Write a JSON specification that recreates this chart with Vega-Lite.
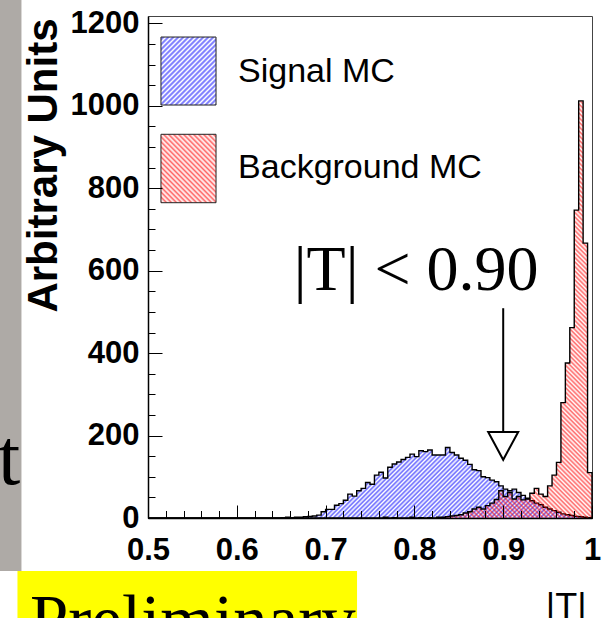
{
"$schema":"https://vega.github.io/schema/vega-lite/v6.json",
"width":444,"height":502,
"autosize":{"type":"none"},
"padding":{"left":148,"top":16,"right":20,"bottom":100},
"background":"white",
"config":{"view":{"stroke":"#444","strokeWidth":1},"font":"Liberation Sans"},
"data":{"values":[
{"T":0.5,"signal":0,"background":0},{"T":0.505,"signal":0,"background":0},{"T":0.51,"signal":0,"background":0},{"T":0.515,"signal":0,"background":0},{"T":0.52,"signal":0,"background":0},
{"T":0.525,"signal":0,"background":0},{"T":0.53,"signal":0,"background":0},{"T":0.535,"signal":0,"background":0},{"T":0.54,"signal":0,"background":0},{"T":0.545,"signal":0,"background":0},
{"T":0.55,"signal":0,"background":0},{"T":0.555,"signal":0,"background":0},{"T":0.56,"signal":0,"background":0},{"T":0.565,"signal":0,"background":0},{"T":0.57,"signal":0,"background":0},
{"T":0.575,"signal":0,"background":0},{"T":0.58,"signal":0,"background":0},{"T":0.585,"signal":0,"background":0},{"T":0.59,"signal":0,"background":0},{"T":0.595,"signal":0,"background":0},
{"T":0.6,"signal":0,"background":0},{"T":0.605,"signal":0,"background":0},{"T":0.61,"signal":0,"background":0},{"T":0.615,"signal":0,"background":0},{"T":0.62,"signal":0,"background":0},
{"T":0.625,"signal":0,"background":0},{"T":0.63,"signal":0,"background":0},{"T":0.635,"signal":0,"background":0},{"T":0.64,"signal":0,"background":0},{"T":0.645,"signal":0,"background":0},
{"T":0.65,"signal":1,"background":0},{"T":0.655,"signal":2,"background":0},{"T":0.66,"signal":1,"background":0},{"T":0.665,"signal":2,"background":0},{"T":0.67,"signal":2,"background":0},
{"T":0.675,"signal":3,"background":0},{"T":0.68,"signal":4,"background":0},{"T":0.685,"signal":5,"background":0},{"T":0.69,"signal":7,"background":0},{"T":0.695,"signal":15,"background":0},
{"T":0.7,"signal":21,"background":0},{"T":0.705,"signal":21,"background":0},{"T":0.71,"signal":31,"background":0},{"T":0.715,"signal":35,"background":0},{"T":0.72,"signal":43,"background":0},
{"T":0.725,"signal":58,"background":0},{"T":0.73,"signal":53,"background":0},{"T":0.735,"signal":66,"background":0},{"T":0.74,"signal":72,"background":0},{"T":0.745,"signal":86,"background":0},
{"T":0.75,"signal":82,"background":0},{"T":0.755,"signal":104,"background":0},{"T":0.76,"signal":111,"background":0},{"T":0.765,"signal":97,"background":2},{"T":0.77,"signal":123,"background":0},
{"T":0.775,"signal":131,"background":1},{"T":0.78,"signal":136,"background":0},{"T":0.785,"signal":142,"background":0},{"T":0.79,"signal":147,"background":0},{"T":0.795,"signal":155,"background":2},
{"T":0.8,"signal":149,"background":0},{"T":0.805,"signal":163,"background":1},{"T":0.81,"signal":161,"background":0},{"T":0.815,"signal":165,"background":1},{"T":0.82,"signal":153,"background":0},
{"T":0.825,"signal":153,"background":2},{"T":0.83,"signal":153,"background":2},{"T":0.835,"signal":171,"background":3},{"T":0.84,"signal":159,"background":5},{"T":0.845,"signal":153,"background":6},
{"T":0.85,"signal":145,"background":8},{"T":0.855,"signal":140,"background":12},{"T":0.86,"signal":130,"background":15},{"T":0.865,"signal":117,"background":22},{"T":0.87,"signal":115,"background":26},
{"T":0.875,"signal":100,"background":22},{"T":0.88,"signal":98,"background":30},{"T":0.885,"signal":92,"background":36},{"T":0.89,"signal":88,"background":45},{"T":0.895,"signal":78,"background":66},
{"T":0.9,"signal":70,"background":52},{"T":0.905,"signal":66,"background":62},{"T":0.91,"signal":70,"background":46},{"T":0.915,"signal":62,"background":52},{"T":0.92,"signal":55,"background":44},
{"T":0.925,"signal":48,"background":46},{"T":0.93,"signal":42,"background":60},{"T":0.935,"signal":36,"background":72},{"T":0.94,"signal":32,"background":58},{"T":0.945,"signal":26,"background":52},
{"T":0.95,"signal":22,"background":78},{"T":0.955,"signal":18,"background":104},{"T":0.96,"signal":14,"background":135},{"T":0.965,"signal":10,"background":280},{"T":0.97,"signal":8,"background":376},
{"T":0.975,"signal":6,"background":462},{"T":0.98,"signal":4,"background":747},{"T":0.985,"signal":3,"background":1012},{"T":0.99,"signal":2,"background":667},{"T":0.995,"signal":1,"background":110},
{"T":1.0,"signal":0,"background":0}
]},
"resolve":{"axis":{"x":"independent","y":"independent"}},
"layer":[
{"data":{"values":[{}]},"mark":{"type":"rect","fill":"#aeaaa6"},
 "encoding":{"x":{"datum":0.3333,"scale":{"domain":[0.5,1],"nice":false,"zero":false},"axis":null},"x2":{"datum":0.3575},
 "y":{"datum":1260,"scale":{"domain":[0,1218],"nice":false,"zero":false},"axis":null},"y2":{"datum":-128.6}}},
{"data":{"values":[{}]},"mark":{"type":"rect","fill":"#ffff00"},
 "encoding":{"x":{"datum":0.353,"scale":{"domain":[0.5,1],"nice":false,"zero":false},"axis":null},"x2":{"datum":0.7354},
 "y":{"datum":-128.6,"scale":{"domain":[0,1218],"nice":false,"zero":false},"axis":null},"y2":{"datum":-260}}},
{"data":{"values":[{}]},"mark":{"type":"text","text":"t","font":"Liberation Serif","fontSize":80,"align":"left","baseline":"alphabetic","color":"black"},
 "encoding":{"x":{"datum":0.3311,"scale":{"domain":[0.5,1],"nice":false,"zero":false},"axis":null},
 "y":{"datum":82,"scale":{"domain":[0,1218],"nice":false,"zero":false},"axis":null}}},
{"data":{"values":[{}]},"mark":{"type":"text","text":"Preliminary","font":"Liberation Serif","fontSize":69,"align":"left","baseline":"alphabetic","color":"black"},
 "encoding":{"x":{"datum":0.3671,"scale":{"domain":[0.5,1],"nice":false,"zero":false},"axis":null},
 "y":{"datum":-303,"scale":{"domain":[0,1218],"nice":false,"zero":false},"axis":null}}},
{"mark":{"type":"area","interpolate":"step-after","fillOpacity":1,"fill":{"gradient":"linear","x1":0.1417,"y1":0.0225,"x2":1.1303,"y2":0.1794,"stops":[
{"offset":0.3,"color":"#00f0"},{"offset":0.305,"color":"#00f9"},{"offset":0.31,"color":"#00f0"},{"offset":0.315,"color":"#00f9"},{"offset":0.32,"color":"#00f0"},{"offset":0.325,"color":"#00f9"},{"offset":0.33,"color":"#00f0"},{"offset":0.335,"color":"#00f9"},{"offset":0.34,"color":"#00f0"},{"offset":0.345,"color":"#00f9"},
{"offset":0.35,"color":"#00f0"},{"offset":0.355,"color":"#00f9"},{"offset":0.36,"color":"#00f0"},{"offset":0.365,"color":"#00f9"},{"offset":0.37,"color":"#00f0"},{"offset":0.375,"color":"#00f9"},{"offset":0.38,"color":"#00f0"},{"offset":0.385,"color":"#00f9"},{"offset":0.39,"color":"#00f0"},{"offset":0.395,"color":"#00f9"},
{"offset":0.4,"color":"#00f0"},{"offset":0.405,"color":"#00f9"},{"offset":0.41,"color":"#00f0"},{"offset":0.415,"color":"#00f9"},{"offset":0.42,"color":"#00f0"},{"offset":0.425,"color":"#00f9"},{"offset":0.43,"color":"#00f0"},{"offset":0.435,"color":"#00f9"},{"offset":0.44,"color":"#00f0"},{"offset":0.445,"color":"#00f9"},
{"offset":0.45,"color":"#00f0"},{"offset":0.455,"color":"#00f9"},{"offset":0.46,"color":"#00f0"},{"offset":0.465,"color":"#00f9"},{"offset":0.47,"color":"#00f0"},{"offset":0.475,"color":"#00f9"},{"offset":0.48,"color":"#00f0"},{"offset":0.485,"color":"#00f9"},{"offset":0.49,"color":"#00f0"},{"offset":0.495,"color":"#00f9"},
{"offset":0.5,"color":"#00f0"},{"offset":0.505,"color":"#00f9"},{"offset":0.51,"color":"#00f0"},{"offset":0.515,"color":"#00f9"},{"offset":0.52,"color":"#00f0"},{"offset":0.525,"color":"#00f9"},{"offset":0.53,"color":"#00f0"},{"offset":0.535,"color":"#00f9"},{"offset":0.54,"color":"#00f0"},{"offset":0.545,"color":"#00f9"},
{"offset":0.55,"color":"#00f0"},{"offset":0.555,"color":"#00f9"},{"offset":0.56,"color":"#00f0"},{"offset":0.565,"color":"#00f9"},{"offset":0.57,"color":"#00f0"},{"offset":0.575,"color":"#00f9"},{"offset":0.58,"color":"#00f0"},{"offset":0.585,"color":"#00f9"},{"offset":0.59,"color":"#00f0"},{"offset":0.595,"color":"#00f9"},
{"offset":0.6,"color":"#00f0"},{"offset":0.605,"color":"#00f9"},{"offset":0.61,"color":"#00f0"},{"offset":0.615,"color":"#00f9"},{"offset":0.62,"color":"#00f0"},{"offset":0.625,"color":"#00f9"},{"offset":0.63,"color":"#00f0"},{"offset":0.635,"color":"#00f9"},{"offset":0.64,"color":"#00f0"},{"offset":0.645,"color":"#00f9"},
{"offset":0.65,"color":"#00f0"},{"offset":0.655,"color":"#00f9"},{"offset":0.66,"color":"#00f0"},{"offset":0.665,"color":"#00f9"},{"offset":0.67,"color":"#00f0"},{"offset":0.675,"color":"#00f9"},{"offset":0.68,"color":"#00f0"},{"offset":0.685,"color":"#00f9"},{"offset":0.69,"color":"#00f0"},{"offset":0.695,"color":"#00f9"},
{"offset":0.7,"color":"#00f0"},{"offset":0.705,"color":"#00f9"},{"offset":0.71,"color":"#00f0"},{"offset":0.715,"color":"#00f9"},{"offset":0.72,"color":"#00f0"},{"offset":0.725,"color":"#00f9"},{"offset":0.73,"color":"#00f0"},{"offset":0.735,"color":"#00f9"},{"offset":0.74,"color":"#00f0"},{"offset":0.745,"color":"#00f9"},
{"offset":0.75,"color":"#00f0"},{"offset":0.755,"color":"#00f9"},{"offset":0.76,"color":"#00f0"},{"offset":0.765,"color":"#00f9"},{"offset":0.77,"color":"#00f0"},{"offset":0.775,"color":"#00f9"},{"offset":0.78,"color":"#00f0"},{"offset":0.785,"color":"#00f9"},{"offset":0.79,"color":"#00f0"},{"offset":0.795,"color":"#00f9"},
{"offset":0.8,"color":"#00f0"},{"offset":0.805,"color":"#00f9"},{"offset":0.81,"color":"#00f0"},{"offset":0.815,"color":"#00f9"},{"offset":0.82,"color":"#00f0"},{"offset":0.825,"color":"#00f9"},{"offset":0.83,"color":"#00f0"},{"offset":0.835,"color":"#00f9"},{"offset":0.84,"color":"#00f0"},{"offset":0.845,"color":"#00f9"},
{"offset":0.85,"color":"#00f0"},{"offset":0.855,"color":"#00f9"},{"offset":0.86,"color":"#00f0"},{"offset":0.865,"color":"#00f9"},{"offset":0.87,"color":"#00f0"},{"offset":0.875,"color":"#00f9"},{"offset":0.88,"color":"#00f0"},{"offset":0.885,"color":"#00f9"},{"offset":0.89,"color":"#00f0"},{"offset":0.895,"color":"#00f9"},
{"offset":0.9,"color":"#00f0"},{"offset":0.905,"color":"#00f9"},{"offset":0.91,"color":"#00f0"},{"offset":0.915,"color":"#00f9"},{"offset":0.92,"color":"#00f0"},{"offset":0.925,"color":"#00f9"},{"offset":0.93,"color":"#00f0"},{"offset":0.935,"color":"#00f9"},{"offset":0.94,"color":"#00f0"},{"offset":0.945,"color":"#00f9"},
{"offset":0.95,"color":"#00f0"},{"offset":0.955,"color":"#00f9"},{"offset":0.96,"color":"#00f0"},{"offset":0.965,"color":"#00f9"},{"offset":0.97,"color":"#00f0"},{"offset":0.975,"color":"#00f9"},{"offset":0.98,"color":"#00f0"},{"offset":0.985,"color":"#00f9"},{"offset":0.99,"color":"#00f0"},{"offset":0.995,"color":"#00f9"},
{"offset":1,"color":"#00f0"}]}},
 "encoding":{
 "x":{"field":"T","type":"quantitative","scale":{"domain":[0.5,1],"nice":false,"zero":false},
  "axis":{"orient":"bottom","values":[0.5,0.6,0.7,0.8,0.9,1],"format":"~g","ticks":false,"grid":false,"domain":true,"domainColor":"black","domainWidth":1.5,"labelFont":"Liberation Sans","labelFontWeight":"bold","labelFontSize":31,"labelColor":"black","labelPadding":17,"labelFlush":false,"labelOverlap":false,"labelBound":false,"title":"|T|","titleFont":"Liberation Sans","titleFontWeight":"normal","titleFontSize":36,"titleColor":"black","titleX":438,"titleY":100,"titleAlign":"right","titleBaseline":"alphabetic","zindex":1}},
 "y":{"field":"signal","type":"quantitative","stack":null,"scale":{"domain":[0,1218],"nice":false,"zero":false},
  "axis":{"orient":"left","values":[0,200,400,600,800,1000,1200],"format":"d","ticks":false,"grid":false,"domain":true,"domainColor":"black","domainWidth":1.5,"labelFont":"Liberation Sans","labelFontWeight":"bold","labelFontSize":31,"labelColor":"black","labelPadding":9,"labelOverlap":false,"labelFlush":false,"title":"Arbitrary Units","titleFont":"Liberation Sans","titleFontWeight":"bold","titleFontSize":42,"titleColor":"black","titleX":-92,"titleY":2,"titleAngle":270,"titleAlign":"right","titleBaseline":"alphabetic","zindex":1}}}},
{"mark":{"type":"line","interpolate":"step-after","color":"black","strokeWidth":1.4},
 "encoding":{
 "x":{"field":"T","type":"quantitative","scale":{"domain":[0.5,1],"nice":false,"zero":false},
  "axis":{"orient":"bottom","values":[0.5,0.6,0.7,0.8,0.9,1],"labels":false,"domain":false,"grid":false,"ticks":true,"tickSize":-13,"tickColor":"black","tickWidth":1,"title":null,"zindex":1}},
 "y":{"field":"signal","type":"quantitative","scale":{"domain":[0,1218],"nice":false,"zero":false},
  "axis":{"orient":"left","values":[0,200,400,600,800,1000,1200],"labels":false,"domain":false,"grid":false,"ticks":true,"tickSize":-14,"tickColor":"black","tickWidth":1,"title":null,"zindex":1}}}},
{"mark":{"type":"area","interpolate":"step-after","fillOpacity":1,"fill":{"gradient":"linear","x1":0.99402,"y1":0.00562,"x2":0.32103,"y2":0.63783,"stops":[
{"offset":0,"color":"#f000"},{"offset":0.004,"color":"#f009"},{"offset":0.008,"color":"#f000"},{"offset":0.012,"color":"#f009"},{"offset":0.016,"color":"#f000"},{"offset":0.02,"color":"#f009"},{"offset":0.024,"color":"#f000"},{"offset":0.028,"color":"#f009"},{"offset":0.032,"color":"#f000"},{"offset":0.036,"color":"#f009"},
{"offset":0.04,"color":"#f000"},{"offset":0.044,"color":"#f009"},{"offset":0.048,"color":"#f000"},{"offset":0.052,"color":"#f009"},{"offset":0.056,"color":"#f000"},{"offset":0.06,"color":"#f009"},{"offset":0.064,"color":"#f000"},{"offset":0.068,"color":"#f009"},{"offset":0.072,"color":"#f000"},{"offset":0.076,"color":"#f009"},
{"offset":0.08,"color":"#f000"},{"offset":0.084,"color":"#f009"},{"offset":0.088,"color":"#f000"},{"offset":0.092,"color":"#f009"},{"offset":0.096,"color":"#f000"},{"offset":0.1,"color":"#f009"},{"offset":0.104,"color":"#f000"},{"offset":0.108,"color":"#f009"},{"offset":0.112,"color":"#f000"},{"offset":0.116,"color":"#f009"},
{"offset":0.12,"color":"#f000"},{"offset":0.124,"color":"#f009"},{"offset":0.128,"color":"#f000"},{"offset":0.132,"color":"#f009"},{"offset":0.136,"color":"#f000"},{"offset":0.14,"color":"#f009"},{"offset":0.144,"color":"#f000"},{"offset":0.148,"color":"#f009"},{"offset":0.152,"color":"#f000"},{"offset":0.156,"color":"#f009"},
{"offset":0.16,"color":"#f000"},{"offset":0.164,"color":"#f009"},{"offset":0.168,"color":"#f000"},{"offset":0.172,"color":"#f009"},{"offset":0.176,"color":"#f000"},{"offset":0.18,"color":"#f009"},{"offset":0.184,"color":"#f000"},{"offset":0.188,"color":"#f009"},{"offset":0.192,"color":"#f000"},{"offset":0.196,"color":"#f009"},
{"offset":0.2,"color":"#f000"},{"offset":0.204,"color":"#f009"},{"offset":0.208,"color":"#f000"},{"offset":0.212,"color":"#f009"},{"offset":0.216,"color":"#f000"},{"offset":0.22,"color":"#f009"},{"offset":0.224,"color":"#f000"},{"offset":0.228,"color":"#f009"},{"offset":0.232,"color":"#f000"},{"offset":0.236,"color":"#f009"},
{"offset":0.24,"color":"#f000"},{"offset":0.244,"color":"#f009"},{"offset":0.248,"color":"#f000"},{"offset":0.252,"color":"#f009"},{"offset":0.256,"color":"#f000"},{"offset":0.26,"color":"#f009"},{"offset":0.264,"color":"#f000"},{"offset":0.268,"color":"#f009"},{"offset":0.272,"color":"#f000"},{"offset":0.276,"color":"#f009"},
{"offset":0.28,"color":"#f000"},{"offset":0.284,"color":"#f009"},{"offset":0.288,"color":"#f000"},{"offset":0.292,"color":"#f009"},{"offset":0.296,"color":"#f000"},{"offset":0.3,"color":"#f009"},{"offset":0.304,"color":"#f000"},{"offset":0.308,"color":"#f009"},{"offset":0.312,"color":"#f000"},{"offset":0.316,"color":"#f009"},
{"offset":0.32,"color":"#f000"},{"offset":0.324,"color":"#f009"},{"offset":0.328,"color":"#f000"},{"offset":0.332,"color":"#f009"},{"offset":0.336,"color":"#f000"},{"offset":0.34,"color":"#f009"},{"offset":0.344,"color":"#f000"},{"offset":0.348,"color":"#f009"},{"offset":0.352,"color":"#f000"},{"offset":0.356,"color":"#f009"},
{"offset":0.36,"color":"#f000"},{"offset":0.364,"color":"#f009"},{"offset":0.368,"color":"#f000"},{"offset":0.372,"color":"#f009"},{"offset":0.376,"color":"#f000"},{"offset":0.38,"color":"#f009"},{"offset":0.384,"color":"#f000"},{"offset":0.388,"color":"#f009"},{"offset":0.392,"color":"#f000"},{"offset":0.396,"color":"#f009"},
{"offset":0.4,"color":"#f000"},{"offset":0.404,"color":"#f009"},{"offset":0.408,"color":"#f000"},{"offset":0.412,"color":"#f009"},{"offset":0.416,"color":"#f000"},{"offset":0.42,"color":"#f009"},{"offset":0.424,"color":"#f000"},{"offset":0.428,"color":"#f009"},{"offset":0.432,"color":"#f000"},{"offset":0.436,"color":"#f009"},
{"offset":0.44,"color":"#f000"},{"offset":0.444,"color":"#f009"},{"offset":0.448,"color":"#f000"},{"offset":0.452,"color":"#f009"},{"offset":0.456,"color":"#f000"},{"offset":0.46,"color":"#f009"},{"offset":0.464,"color":"#f000"},{"offset":0.468,"color":"#f009"},{"offset":0.472,"color":"#f000"},{"offset":0.476,"color":"#f009"},
{"offset":0.48,"color":"#f000"},{"offset":0.484,"color":"#f009"},{"offset":0.488,"color":"#f000"},{"offset":0.492,"color":"#f009"},{"offset":0.496,"color":"#f000"},{"offset":0.5,"color":"#f009"},{"offset":0.504,"color":"#f000"},{"offset":0.508,"color":"#f009"},{"offset":0.512,"color":"#f000"},{"offset":0.516,"color":"#f009"},
{"offset":0.52,"color":"#f000"},{"offset":0.524,"color":"#f009"},{"offset":0.528,"color":"#f000"},{"offset":0.532,"color":"#f009"},{"offset":0.536,"color":"#f000"},{"offset":0.54,"color":"#f009"},{"offset":0.544,"color":"#f000"},{"offset":0.548,"color":"#f009"},{"offset":0.552,"color":"#f000"},{"offset":0.556,"color":"#f009"},
{"offset":0.56,"color":"#f000"},{"offset":0.564,"color":"#f009"},{"offset":0.568,"color":"#f000"},{"offset":0.572,"color":"#f009"},{"offset":0.576,"color":"#f000"},{"offset":0.58,"color":"#f009"},{"offset":0.584,"color":"#f000"},{"offset":0.588,"color":"#f009"},{"offset":0.592,"color":"#f000"},{"offset":0.596,"color":"#f009"},
{"offset":0.6,"color":"#f000"},{"offset":0.604,"color":"#f009"},{"offset":0.608,"color":"#f000"},{"offset":0.612,"color":"#f009"},{"offset":0.616,"color":"#f000"},{"offset":0.62,"color":"#f009"},{"offset":0.624,"color":"#f000"},{"offset":0.628,"color":"#f009"},{"offset":0.632,"color":"#f000"},{"offset":0.636,"color":"#f009"},
{"offset":0.64,"color":"#f000"},{"offset":0.644,"color":"#f009"},{"offset":0.648,"color":"#f000"},{"offset":0.652,"color":"#f009"},{"offset":0.656,"color":"#f000"},{"offset":0.66,"color":"#f009"},{"offset":0.664,"color":"#f000"},{"offset":0.668,"color":"#f009"},{"offset":0.672,"color":"#f000"},{"offset":0.676,"color":"#f009"},
{"offset":0.68,"color":"#f000"},{"offset":0.684,"color":"#f009"},{"offset":0.688,"color":"#f000"},{"offset":0.692,"color":"#f009"},{"offset":0.696,"color":"#f000"},{"offset":0.7,"color":"#f009"},{"offset":0.704,"color":"#f000"},{"offset":0.708,"color":"#f009"},{"offset":0.712,"color":"#f000"},{"offset":0.716,"color":"#f009"},
{"offset":0.72,"color":"#f000"},{"offset":0.724,"color":"#f009"},{"offset":0.728,"color":"#f000"},{"offset":0.732,"color":"#f009"},{"offset":0.736,"color":"#f000"},{"offset":0.74,"color":"#f009"},{"offset":0.744,"color":"#f000"},{"offset":0.748,"color":"#f009"},{"offset":0.752,"color":"#f000"},{"offset":0.756,"color":"#f009"},
{"offset":0.76,"color":"#f000"},{"offset":0.764,"color":"#f009"},{"offset":0.768,"color":"#f000"},{"offset":0.772,"color":"#f009"},{"offset":0.776,"color":"#f000"},{"offset":0.78,"color":"#f009"},{"offset":0.784,"color":"#f000"},{"offset":0.788,"color":"#f009"},{"offset":0.792,"color":"#f000"},{"offset":0.796,"color":"#f009"},
{"offset":0.8,"color":"#f000"},{"offset":0.804,"color":"#f009"},{"offset":0.808,"color":"#f000"},{"offset":0.812,"color":"#f009"},{"offset":0.816,"color":"#f000"},{"offset":0.82,"color":"#f009"},{"offset":0.824,"color":"#f000"},{"offset":0.828,"color":"#f009"},{"offset":0.832,"color":"#f000"},{"offset":0.836,"color":"#f009"},
{"offset":0.84,"color":"#f000"},{"offset":0.844,"color":"#f009"},{"offset":0.848,"color":"#f000"},{"offset":0.852,"color":"#f009"},{"offset":0.856,"color":"#f000"},{"offset":0.86,"color":"#f009"},{"offset":0.864,"color":"#f000"},{"offset":0.868,"color":"#f009"},{"offset":0.872,"color":"#f000"},{"offset":0.876,"color":"#f009"},
{"offset":0.88,"color":"#f000"},{"offset":0.884,"color":"#f009"},{"offset":0.888,"color":"#f000"},{"offset":0.892,"color":"#f009"},{"offset":0.896,"color":"#f000"},{"offset":0.9,"color":"#f009"},{"offset":0.904,"color":"#f000"},{"offset":0.908,"color":"#f009"},{"offset":0.912,"color":"#f000"},{"offset":0.916,"color":"#f009"},
{"offset":0.92,"color":"#f000"},{"offset":0.924,"color":"#f009"},{"offset":0.928,"color":"#f000"},{"offset":0.932,"color":"#f009"},{"offset":0.936,"color":"#f000"},{"offset":0.94,"color":"#f009"},{"offset":0.944,"color":"#f000"},{"offset":0.948,"color":"#f009"},{"offset":0.952,"color":"#f000"},{"offset":0.956,"color":"#f009"},
{"offset":0.96,"color":"#f000"},{"offset":0.964,"color":"#f009"},{"offset":0.968,"color":"#f000"},{"offset":0.972,"color":"#f009"},{"offset":0.976,"color":"#f000"},{"offset":0.98,"color":"#f009"},{"offset":0.984,"color":"#f000"},{"offset":0.988,"color":"#f009"},{"offset":0.992,"color":"#f000"},{"offset":0.996,"color":"#f009"},
{"offset":1,"color":"#f000"}]}},
 "encoding":{
 "x":{"field":"T","type":"quantitative","scale":{"domain":[0.5,1],"nice":false,"zero":false},
  "axis":{"orient":"bottom","values":[0.5,0.52,0.54,0.56,0.58,0.6,0.62,0.64,0.66,0.68,0.7,0.72,0.74,0.76,0.78,0.8,0.82,0.84,0.86,0.88,0.9,0.92,0.94,0.96,0.98,1],"labels":false,"domain":false,"grid":false,"ticks":true,"tickSize":-7.5,"tickColor":"black","tickWidth":1,"title":null,"zindex":1}},
 "y":{"field":"background","type":"quantitative","stack":null,"scale":{"domain":[0,1218],"nice":false,"zero":false},
  "axis":{"orient":"left","values":[0,50,100,150,200,250,300,350,400,450,500,550,600,650,700,750,800,850,900,950,1000,1050,1100,1150,1200],"labels":false,"domain":false,"grid":false,"ticks":true,"tickSize":-7,"tickColor":"black","tickWidth":1,"title":null,"zindex":1}}}},
{"mark":{"type":"line","interpolate":"step-after","color":"black","strokeWidth":1.4},
 "encoding":{
 "x":{"field":"T","type":"quantitative","scale":{"domain":[0.5,1],"nice":false,"zero":false},"axis":null},
 "y":{"field":"background","type":"quantitative","scale":{"domain":[0,1218],"nice":false,"zero":false},"axis":null}}},
{"data":{"values":[{}]},"mark":{"type":"rect","stroke":"#222","strokeWidth":1,"fill":{"gradient":"linear","x1":0,"y1":0,"x2":0.899,"y2":1.1103,"stops":[
{"offset":0,"color":"#00f0"},{"offset":0.02,"color":"#00f9"},{"offset":0.04,"color":"#00f0"},{"offset":0.06,"color":"#00f9"},{"offset":0.08,"color":"#00f0"},{"offset":0.1,"color":"#00f9"},{"offset":0.12,"color":"#00f0"},{"offset":0.14,"color":"#00f9"},{"offset":0.16,"color":"#00f0"},{"offset":0.18,"color":"#00f9"},
{"offset":0.2,"color":"#00f0"},{"offset":0.22,"color":"#00f9"},{"offset":0.24,"color":"#00f0"},{"offset":0.26,"color":"#00f9"},{"offset":0.28,"color":"#00f0"},{"offset":0.3,"color":"#00f9"},{"offset":0.32,"color":"#00f0"},{"offset":0.34,"color":"#00f9"},{"offset":0.36,"color":"#00f0"},{"offset":0.38,"color":"#00f9"},
{"offset":0.4,"color":"#00f0"},{"offset":0.42,"color":"#00f9"},{"offset":0.44,"color":"#00f0"},{"offset":0.46,"color":"#00f9"},{"offset":0.48,"color":"#00f0"},{"offset":0.5,"color":"#00f9"},{"offset":0.52,"color":"#00f0"},{"offset":0.54,"color":"#00f9"},{"offset":0.56,"color":"#00f0"},{"offset":0.58,"color":"#00f9"},
{"offset":0.6,"color":"#00f0"},{"offset":0.62,"color":"#00f9"},{"offset":0.64,"color":"#00f0"},{"offset":0.66,"color":"#00f9"},{"offset":0.68,"color":"#00f0"},{"offset":0.7,"color":"#00f9"},{"offset":0.72,"color":"#00f0"},{"offset":0.74,"color":"#00f9"},{"offset":0.76,"color":"#00f0"},{"offset":0.78,"color":"#00f9"},
{"offset":0.8,"color":"#00f0"},{"offset":0.82,"color":"#00f9"},{"offset":0.84,"color":"#00f0"},{"offset":0.86,"color":"#00f9"},{"offset":0.88,"color":"#00f0"},{"offset":0.9,"color":"#00f9"},{"offset":0.92,"color":"#00f0"},{"offset":0.94,"color":"#00f9"},{"offset":0.96,"color":"#00f0"},{"offset":0.98,"color":"#00f9"},
{"offset":1,"color":"#00f0"}]}},
 "encoding":{"x":{"datum":0.5146,"scale":{"domain":[0.5,1],"nice":false,"zero":false},"axis":null},"x2":{"datum":0.5766},
 "y":{"datum":1002,"scale":{"domain":[0,1218],"nice":false,"zero":false},"axis":null},"y2":{"datum":1167}}},
{"data":{"values":[{}]},"mark":{"type":"rect","stroke":"#222","strokeWidth":1,"fill":{"gradient":"linear","x1":1,"y1":0,"x2":0.101,"y2":1.1103,"stops":[
{"offset":0,"color":"#f000"},{"offset":0.02,"color":"#f009"},{"offset":0.04,"color":"#f000"},{"offset":0.06,"color":"#f009"},{"offset":0.08,"color":"#f000"},{"offset":0.1,"color":"#f009"},{"offset":0.12,"color":"#f000"},{"offset":0.14,"color":"#f009"},{"offset":0.16,"color":"#f000"},{"offset":0.18,"color":"#f009"},
{"offset":0.2,"color":"#f000"},{"offset":0.22,"color":"#f009"},{"offset":0.24,"color":"#f000"},{"offset":0.26,"color":"#f009"},{"offset":0.28,"color":"#f000"},{"offset":0.3,"color":"#f009"},{"offset":0.32,"color":"#f000"},{"offset":0.34,"color":"#f009"},{"offset":0.36,"color":"#f000"},{"offset":0.38,"color":"#f009"},
{"offset":0.4,"color":"#f000"},{"offset":0.42,"color":"#f009"},{"offset":0.44,"color":"#f000"},{"offset":0.46,"color":"#f009"},{"offset":0.48,"color":"#f000"},{"offset":0.5,"color":"#f009"},{"offset":0.52,"color":"#f000"},{"offset":0.54,"color":"#f009"},{"offset":0.56,"color":"#f000"},{"offset":0.58,"color":"#f009"},
{"offset":0.6,"color":"#f000"},{"offset":0.62,"color":"#f009"},{"offset":0.64,"color":"#f000"},{"offset":0.66,"color":"#f009"},{"offset":0.68,"color":"#f000"},{"offset":0.7,"color":"#f009"},{"offset":0.72,"color":"#f000"},{"offset":0.74,"color":"#f009"},{"offset":0.76,"color":"#f000"},{"offset":0.78,"color":"#f009"},
{"offset":0.8,"color":"#f000"},{"offset":0.82,"color":"#f009"},{"offset":0.84,"color":"#f000"},{"offset":0.86,"color":"#f009"},{"offset":0.88,"color":"#f000"},{"offset":0.9,"color":"#f009"},{"offset":0.92,"color":"#f000"},{"offset":0.94,"color":"#f009"},{"offset":0.96,"color":"#f000"},{"offset":0.98,"color":"#f009"},
{"offset":1,"color":"#f000"}]}},
 "encoding":{"x":{"datum":0.5146,"scale":{"domain":[0.5,1],"nice":false,"zero":false},"axis":null},"x2":{"datum":0.5766},
 "y":{"datum":765,"scale":{"domain":[0,1218],"nice":false,"zero":false},"axis":null},"y2":{"datum":931}}},
{"data":{"values":[{}]},"mark":{"type":"text","text":"Signal MC","font":"Liberation Sans","fontSize":34,"align":"left","baseline":"alphabetic","color":"black"},
 "encoding":{"x":{"datum":0.6014,"scale":{"domain":[0.5,1],"nice":false,"zero":false},"axis":null},
 "y":{"datum":1058,"scale":{"domain":[0,1218],"nice":false,"zero":false},"axis":null}}},
{"data":{"values":[{}]},"mark":{"type":"text","text":"Background MC","font":"Liberation Sans","fontSize":34,"align":"left","baseline":"alphabetic","color":"black"},
 "encoding":{"x":{"datum":0.6014,"scale":{"domain":[0.5,1],"nice":false,"zero":false},"axis":null},
 "y":{"datum":825,"scale":{"domain":[0,1218],"nice":false,"zero":false},"axis":null}}},
{"data":{"values":[{}]},"mark":{"type":"rule","color":"black","strokeWidth":2},
 "encoding":{"x":{"datum":0.9,"scale":{"domain":[0.5,1],"nice":false,"zero":false},"axis":null},
 "y":{"datum":509,"scale":{"domain":[0,1218],"nice":false,"zero":false},"axis":null},"y2":{"datum":209}}},
{"data":{"values":[{}]},"mark":{"type":"point","shape":"M-1,-0.93L1,-0.93L0,0.93Z","size":900,"filled":true,"fill":"white","stroke":"black","strokeWidth":2,"opacity":1},
 "encoding":{"x":{"datum":0.9,"scale":{"domain":[0.5,1],"nice":false,"zero":false},"axis":null},
 "y":{"datum":175,"scale":{"domain":[0,1218],"nice":false,"zero":false},"axis":null}}},
{"data":{"values":[{}]},"mark":{"type":"text","text":"|T| < 0.90","font":"Liberation Serif","fontSize":64,"align":"center","baseline":"alphabetic","color":"black"},
 "encoding":{"x":{"datum":0.802,"scale":{"domain":[0.5,1],"nice":false,"zero":false},"axis":null},
 "y":{"datum":553,"scale":{"domain":[0,1218],"nice":false,"zero":false},"axis":null}}}
]
}
